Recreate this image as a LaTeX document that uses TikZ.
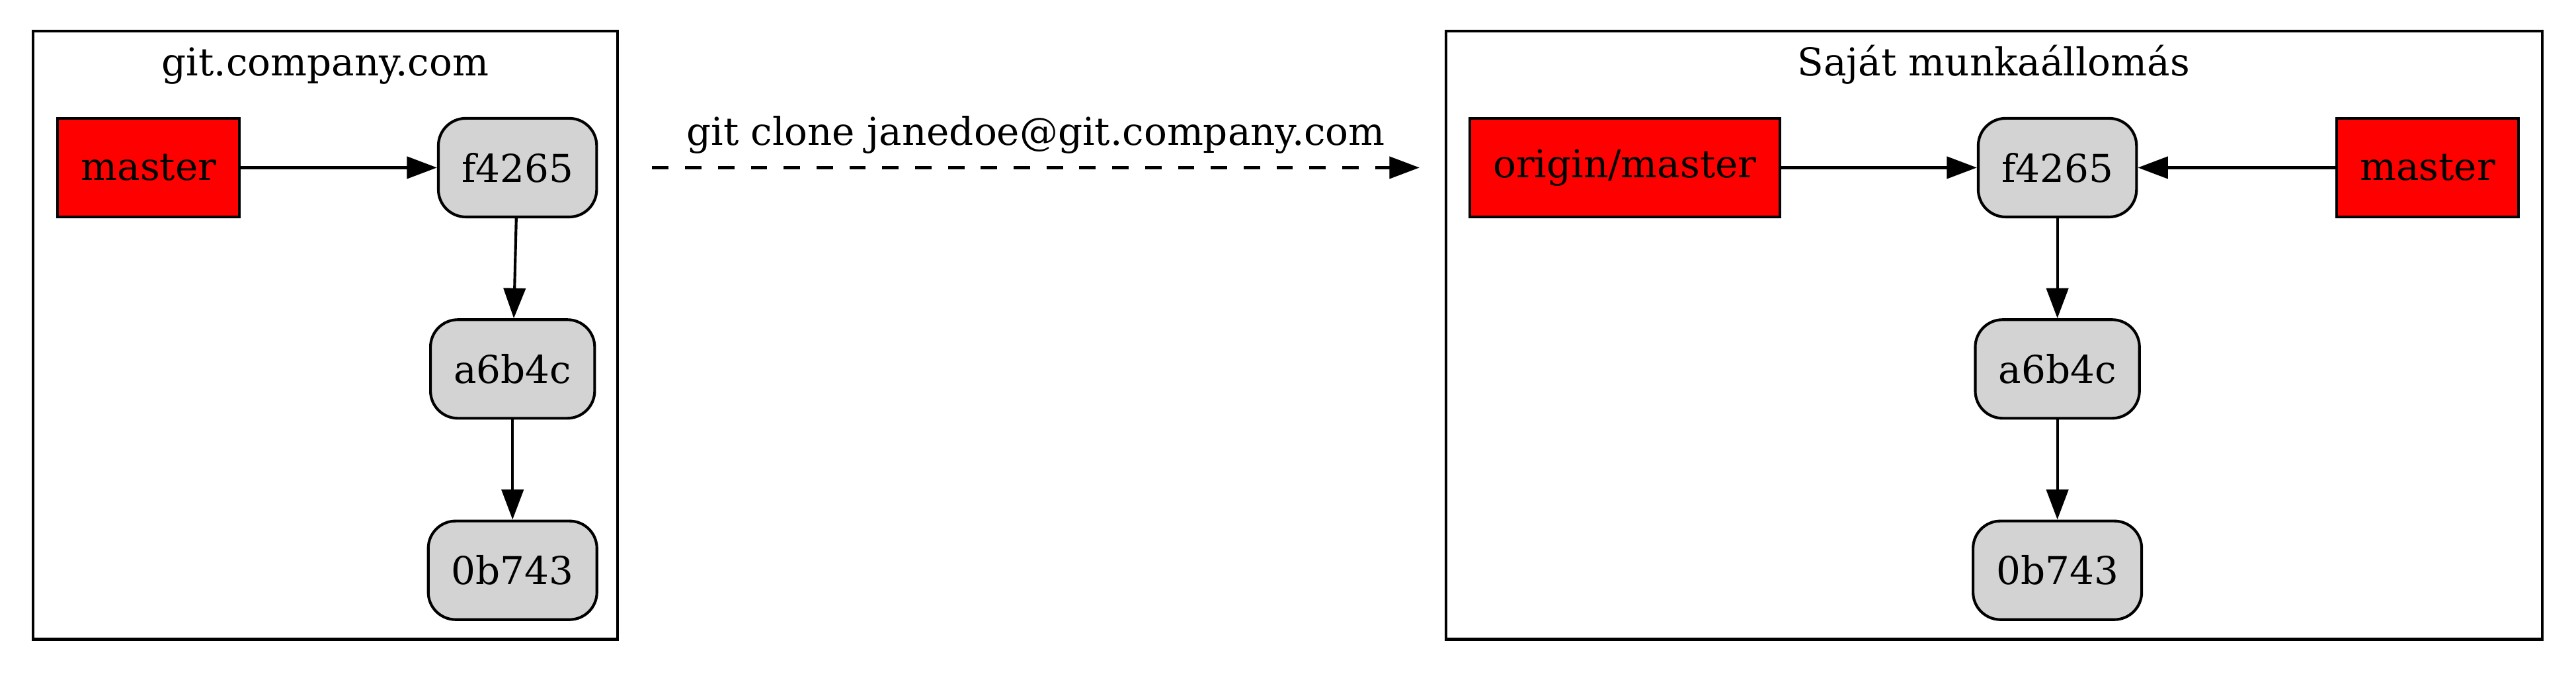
\documentclass[tikz,border=0pt]{standalone}
\usepackage{fontspec}
\setmainfont{DejaVu Serif}
\usetikzlibrary{arrows.meta}
\definecolor{commitgray}{HTML}{D3D3D3}
\tikzset{
	every node/.style={font=\fontsize{14}{17}\selectfont},
	commit/.style={draw,fill=commitgray,rounded corners=10pt,minimum height=36pt,inner xsep=8.5pt,line width=1pt},
	branch/.style={draw,fill=red,minimum height=36pt,inner xsep=8.5pt,line width=1pt},
	cluster/.style={draw,line width=1pt,inner sep=0pt},
	ref/.style={-{Triangle[length=11pt,width=8pt]},line width=1pt}
}

\begin{document}
\begin{tikzpicture}[x=0.6pt,y=-0.6pt]
		\useasboundingbox (0,0) rectangle (1568,411);
		\node at (198,204) [cluster,minimum width=213.6pt,minimum height=222pt] (server) {};
		\node at (1213.75,204) [cluster,minimum width=400.5pt,minimum height=222pt] (local) {};
		\node at (198,46) [anchor=base] (serverTitle) {git.company.com};
		\node at (1213.5,46) [anchor=base] (localTitle) {Saját munkaállomás};
		\node at (90.5,102) [branch] (serverMaster) {master};
		\node at (315,102) [commit] (serverF) {f4265};
		\node at (312,224.5) [commit] (serverA) {a6b4c};
		\node at (312,347) [commit] (serverB) {0b743};
		\node at (989,102) [branch] (originMaster) {origin/master};
		\node at (1252.3,102) [commit] (localF) {f4265};
		\node at (1477.6,102) [branch] (localMaster) {master};
		\node at (1252.3,224.5) [commit] (localA) {a6b4c};
		\node at (1252.3,347) [commit] (localB) {0b743};
		\draw [ref] (serverMaster) -- (serverF);
		\draw [ref] (serverF) -- (serverA);
		\draw [ref] (serverA) -- (serverB);
		\draw [ref] (originMaster) -- (localF);
		\draw [ref] (localMaster) -- (localF);
		\draw [ref] (localF) -- (localA);
		\draw [ref] (localA) -- (localB);
		\coordinate (cloneFrom) at (397,102);
		\coordinate (cloneTo) at (864,102);
		\draw [ref,dash pattern=on 6pt off 6pt] (cloneFrom) -- node[midway,anchor=base,yshift=8.1pt] (cloneLabel) {git clone janedoe@git.company.com} (cloneTo);
\end{tikzpicture}
\end{document}
